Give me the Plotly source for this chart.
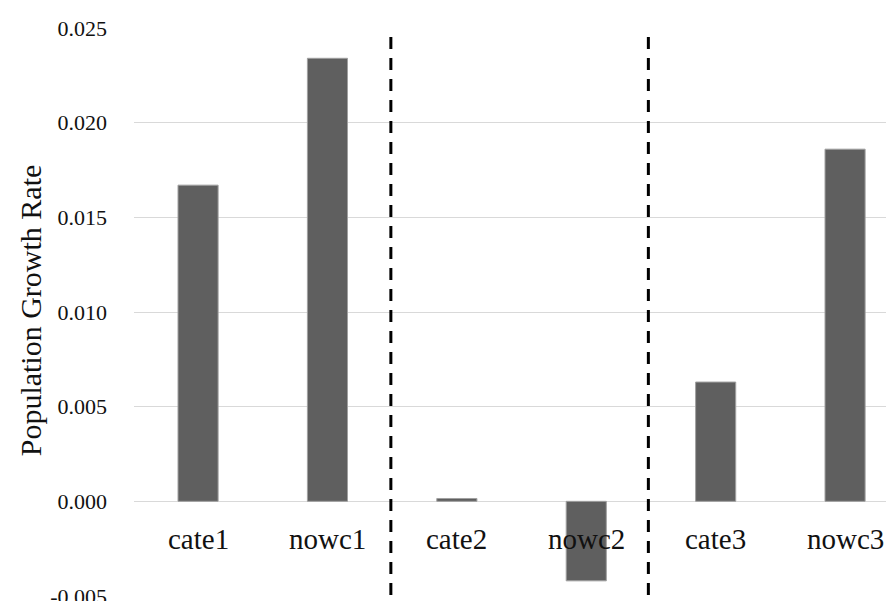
import plotly.graph_objects as go

categories = ["cate1", "nowc1", "cate2", "nowc2", "cate3", "nowc3"]
growth_rate = [0.0167, 0.0234, 0.00015, -0.0042, 0.0063, 0.0186]
y_tick_values = [-0.005, 0.000, 0.005, 0.010, 0.015, 0.020, 0.025]
y_tick_labels = ["-0.005", "0.000", "0.005", "0.010", "0.015", "0.020", "0.025"]
divider_positions = [1.49, 3.48]
y_title = "Population Growth Rate"

FONT = "Liberation Serif, Times New Roman, serif"

fig = go.Figure()
fig.add_trace(go.Bar(
    x=list(range(len(categories))),
    y=growth_rate,
    marker=dict(color="#5f5f5f", line=dict(color="#a0a0a0", width=1)),
    width=0.31,
    showlegend=False,
    hoverinfo="x+y",
))

for xp in divider_positions:
    fig.add_shape(type="line", xref="x", yref="y",
                  x0=xp, x1=xp, y0=-0.00495, y1=0.0248,
                  line=dict(color="black", width=3, dash="12px,9px"))

for i, c in enumerate(categories):
    fig.add_annotation(x=i, y=0, xref="x", yref="y", text=c, showarrow=False,
                       yanchor="middle", yshift=-38,
                       font=dict(family=FONT, size=29, color="#111111"))

fig.add_annotation(xref="paper", yref="paper", x=-0.1354, y=0.503,
                   text=y_title, textangle=-90, showarrow=False,
                   xanchor="center", yanchor="middle",
                   font=dict(family=FONT, size=30, color="#111111"))

fig.update_layout(
    width=894, height=601,
    margin=dict(l=126, r=0, t=20, b=13),
    paper_bgcolor="white", plot_bgcolor="white",
    xaxis=dict(range=[-0.495, 5.44], showticklabels=False, showgrid=False,
               zeroline=False, showline=False, ticks=""),
    yaxis=dict(range=[-0.005, 0.025], tickvals=y_tick_values, ticktext=y_tick_labels,
               showgrid=True, gridcolor="#d9d9d9", gridwidth=1,
               zeroline=False, showline=False, ticks="", ticklabelstandoff=26,
               tickfont=dict(family=FONT, size=22, color="#111111")),
)

fig.write_html("out.html")
